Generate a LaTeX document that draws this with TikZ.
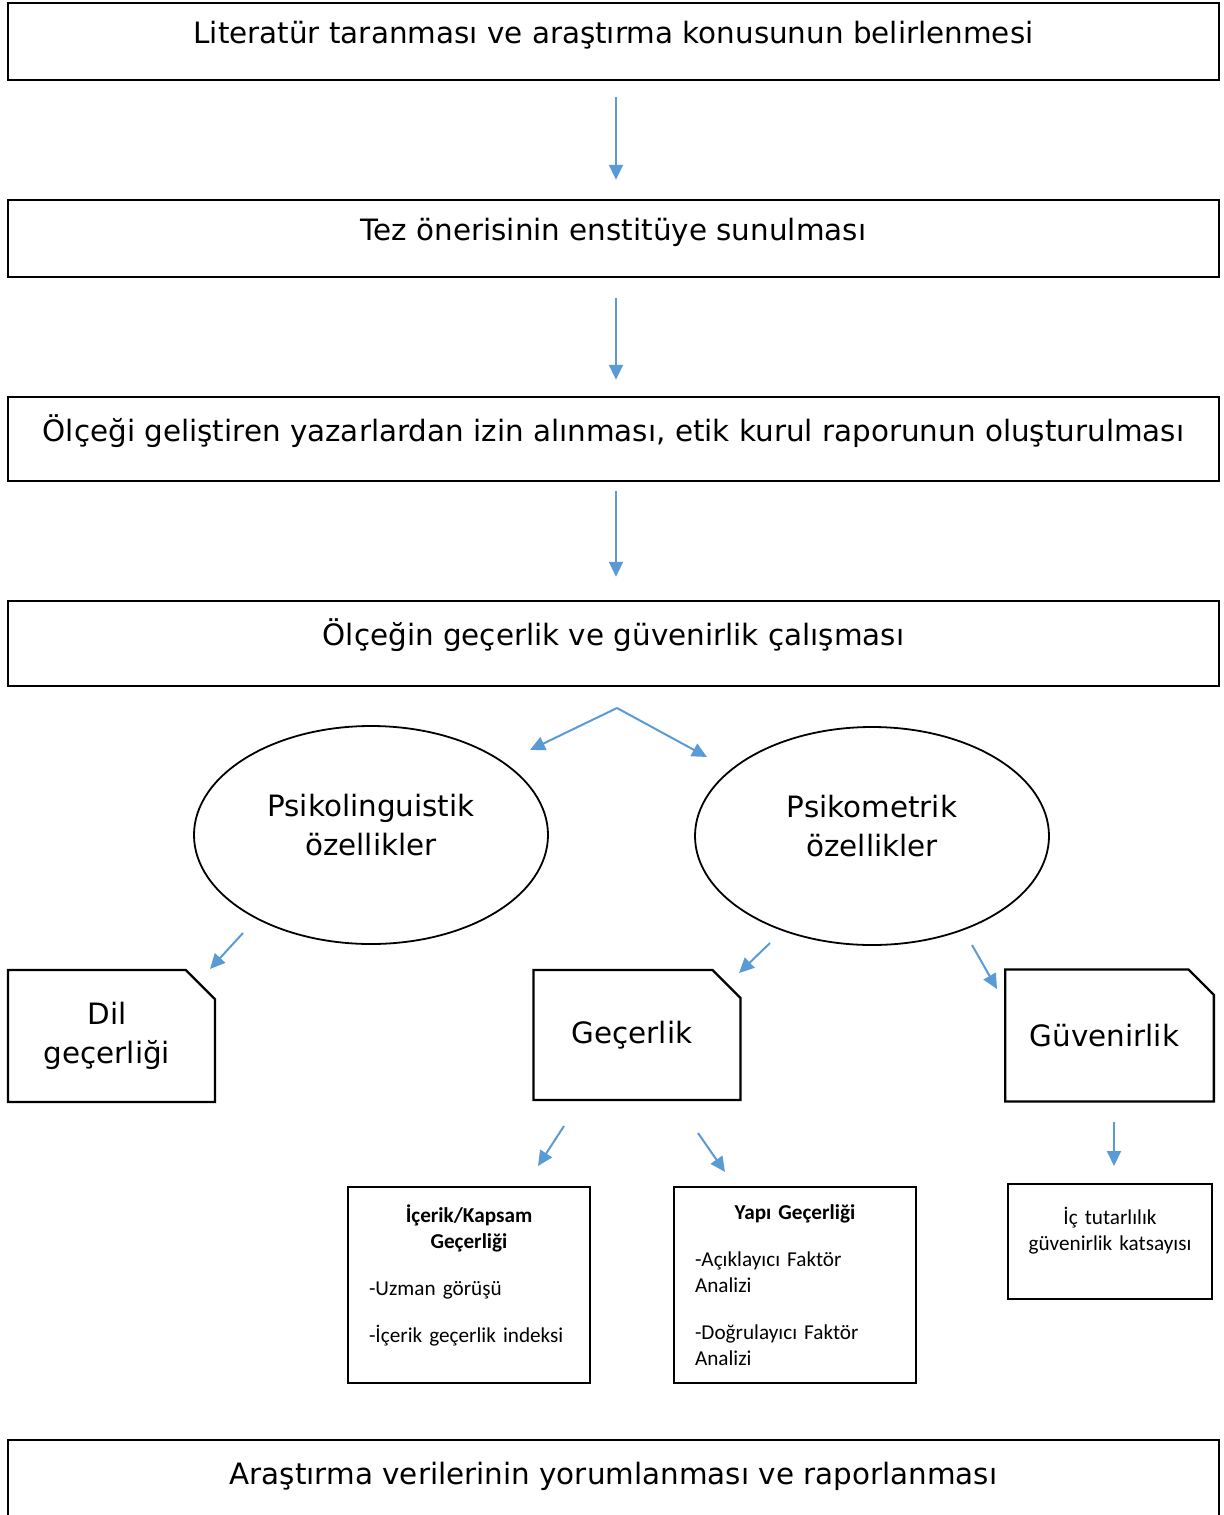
\documentclass[tikz,border=0pt]{standalone}
\usepackage{fontspec}
\setmainfont{DejaVu Sans}
\newfontfamily\calibri{Carlito}
\definecolor{flowBlue}{HTML}{5B9BD5}
\usetikzlibrary{arrows.meta,positioning,calc,shapes.geometric,shapes.misc}

\begin{document}
\begin{tikzpicture}[x=0.5pt, y=-0.5pt,
    stage/.style={draw, line width=1.2pt, minimum width=605.5pt, minimum height=38.5pt,
      text height=10pt, text depth=8pt, font=\fontsize{14.7}{19.5}\selectfont},
    trait/.style={ellipse, draw, line width=0.9pt, inner sep=0pt, minimum width=177pt,
      minimum height=109pt, text width=110pt, align=center, font=\fontsize{14.7}{19.5}\selectfont},
    facet/.style={chamfered rectangle, chamfered rectangle corners=north east,
      chamfered rectangle angle=45, chamfered rectangle xsep=11pt, draw, line width=1.2pt,
      minimum width=103.5pt, minimum height=66pt, align=center, font=\fontsize{14.7}{19.5}\selectfont},
    detail/.style={draw, line width=1.2pt, inner xsep=10.5pt, text width=100pt, minimum height=98pt,
      align=left, font=\calibri\fontsize{10.6}{13}\selectfont},
    flow/.style={flowBlue, line width=1pt, -{Triangle[length=7.5pt,width=7pt]}}]
  \useasboundingbox (0,0) rectangle (1223,1515);

  % Main stages
  \node[stage] (lit) at (613.5,41.5) {Literatür taranması ve araştırma konusunun belirlenmesi};
  \node[stage] (tez) at (613.5,238.5) {Tez önerisinin enstitüye sunulması};
  \node[stage, minimum height=42pt] (izin) at (613.5,439)
    {Ölçeği geliştiren yazarlardan izin alınması, etik kurul raporunun oluşturulması};
  \node[stage, minimum height=42.5pt] (olcek) at (613.5,643.5) {Ölçeğin geçerlik ve güvenirlik çalışması};
  \node[stage, minimum height=42.5pt] (rapor) at (613.5,1482.5)
    {Araştırma verilerinin yorumlanması ve raporlanması};

  % Properties
  \node[trait] (psiling) at (371,835) {Psikolinguistik\\özellikler\par\kern10pt};
  \node[trait] (psimet) at (872,836) {Psikometrik\\özellikler\par\kern10pt};

  \node[facet] (dil) at (111.5,1036) {Dil\kern4.5pt\\geçerliği\kern4.5pt};
  \node[facet, minimum height=65pt] (gecerlik) at (637,1035) {Geçerlik\kern5pt};
  \node[facet] (guven) at (1109.5,1035.5) {Güvenirlik\kern5pt};

  % Details
  \node[detail] (icerik) at (469,1285)
    {{\centering\bfseries İçerik/Kapsam\\Geçerliği\par}\vspace{10.5pt}
     -Uzman görüşü\par\vspace{10.5pt}
     -İçerik geçerlik indeksi\par\kern10pt};
  \node[detail] (yapi) at (795,1285)
    {{\centering\bfseries Yapı Geçerliği\par}\vspace{10.5pt}
     -Açıklayıcı Faktör\\Analizi\par\vspace{10.5pt}
     -Doğrulayıcı Faktör\\Analizi};
  \node[detail, inner xsep=6pt, text width=90pt, minimum height=57.5pt, align=center] (ictut)
    at (1110,1241.5) {İç tutarlılık\\güvenirlik katsayısı\par\kern11pt};

  % Arrows
  \draw[flow, shorten <=8pt, shorten >=9.5pt] ($(lit.south)+(2.5,0)$) -- ($(tez.north)+(2.5,0)$);
  \draw[flow, shorten <=10pt, shorten >=8pt] ($(tez.south)+(2.5,0)$) -- ($(izin.north)+(2.5,0)$);
  \draw[flow, shorten <=4.5pt, shorten >=11.5pt] ($(izin.south)+(2.5,0)$) -- ($(olcek.north)+(2.5,0)$);

  \coordinate (split) at (617,708);
  \coordinate (toLing) at (530,750);
  \coordinate (toMet) at (707,757);
  \coordinate (lingOut) at (243,933);
  \coordinate (toDil) at (210,969);
  \coordinate (metOutL) at (770,943);
  \coordinate (toGec) at (739,973);
  \coordinate (metOutR) at (972,945);
  \coordinate (toGuv) at (997,989);
  \coordinate (gecOutL) at (564,1126);
  \coordinate (toIcerik) at (538,1166);
  \coordinate (gecOutR) at (698,1133);
  \coordinate (toYapi) at (725,1172);
  \coordinate (guvOut) at (1114,1122);
  \coordinate (toIc) at (1114,1166);
  \foreach \a/\b in {split/toLing, split/toMet, lingOut/toDil, metOutL/toGec, metOutR/toGuv,
      gecOutL/toIcerik, gecOutR/toYapi, guvOut/toIc}
    \draw[flow] (\a) -- (\b);
\end{tikzpicture}
\end{document}
